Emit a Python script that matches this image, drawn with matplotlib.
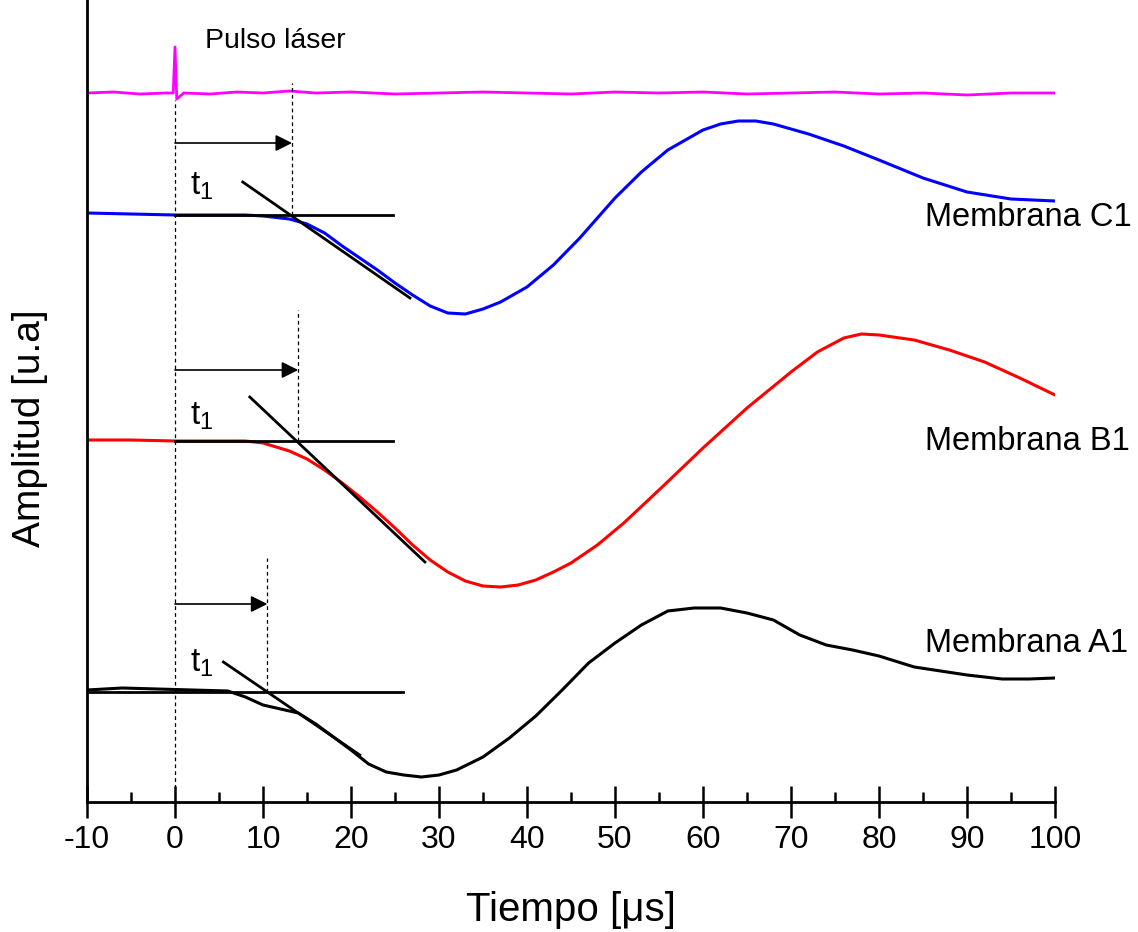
import numpy as np
import matplotlib
matplotlib.use('Agg')
import matplotlib.pyplot as plt

plt.rcParams['font.family'] = ['Liberation Sans', 'DejaVu Sans']
plt.rcParams['mathtext.default'] = 'regular'
plt.rcParams['axes.unicode_minus'] = False

# laser pulse trace
t_laser = [-10, -7, -4, -1, -0.2, 0, 0.2, 1, 4, 7, 10, 13, 16, 20, 25, 30, 35, 40, 45, 50,
           55, 60, 65, 70, 75, 80, 85, 90, 95, 100]
amp_laser = [709, 710, 708, 709, 709, 755, 703, 709, 708, 710, 709, 711, 709, 710, 708, 709, 710, 709, 708, 710,
             709, 710, 708, 709, 710, 708, 709, 707, 709, 709]

# membrana C1 (blue)
t_c1 = [-10, -5, 0, 5, 8, 10, 13, 15, 17, 19, 21, 23, 25, 27, 29, 31, 33, 35, 37, 40,
        43, 46, 50, 53, 56, 60, 62, 64, 66, 68, 72, 76, 80, 85, 90, 95, 100]
amp_c1 = [589, 588, 587, 587, 587, 586, 583, 578, 569, 556, 544, 532, 519, 507, 496, 489, 488, 493, 500, 515,
          537, 564, 604, 630, 652, 672, 678, 681, 681, 678, 668, 656, 642, 624, 610, 603, 601]

# membrana B1 (red)
t_b1 = [-10, -5, 0, 5, 8, 10, 13, 15, 17, 19, 21, 23, 25, 27, 29, 31, 33, 35, 37, 39,
        41, 43, 45, 48, 51, 55, 60, 65, 70, 73, 76, 78, 80, 84, 88, 92, 96, 100]
amp_b1 = [362, 362, 361, 361, 361, 359, 351, 343, 332, 319, 305, 290, 274, 257, 242, 230, 221, 216, 215, 217,
          222, 230, 239, 257, 279, 312, 354, 394, 430, 450, 464, 468, 467, 462, 452, 440, 424, 407]

# membrana A1 (black)
t_a1 = [-10, -6, -2, 2, 6, 8, 10, 12, 14, 16, 18, 20, 22, 24, 26, 28, 30, 32, 35, 38,
        41, 44, 47, 50, 53, 56, 59, 62, 65, 68, 71, 74, 77, 80, 84, 87, 90, 94, 97, 100]
amp_a1 = [112, 114, 113, 112, 111, 105, 97, 93, 89, 78, 65, 52, 38, 30, 27, 25, 27, 32, 45, 64,
          86, 112, 139, 159, 177, 191, 194, 194, 189, 182, 167, 157, 152, 146, 135, 131, 127, 123, 123, 124]

# t1 construction for each membrane: C1, B1, A1
names = ['Membrana C1', 'Membrana B1', 'Membrana A1']
t1 = [13.3, 14.0, 10.5]
base_amp = [587, 361, 110]
base_start = [0, 0, -10]
base_end = [24.8, 24.8, 25.9]
tan_t = [(7.7, 26.7), (8.5, 28.4), (5.5, 21.0)]
tan_amp = [(620, 504), (405, 240), (140, 47)]
dash_top = [719, 492, 244]
arrow_amp = [659, 432, 198]
t1_label_amp = [607, 377, 130]
name_amp = [584, 360, 159]

fig = plt.figure(figsize=(11.38, 9.32), dpi=100)
ax = fig.add_axes([87 / 1138, 1 - 802 / 932, 968 / 1138, 802 / 932])

ax.plot(t_laser, amp_laser, color='#ff00ff', lw=2.0)
ax.plot(t_c1, amp_c1, color='#0000ff', lw=2.2)
ax.plot(t_b1, amp_b1, color='#ff0000', lw=2.2)
ax.plot(t_a1, amp_a1, color='black', lw=2.2)

# dashed line from the laser pulse
ax.plot([0, 0], [0, 702], color='black', lw=0.9, ls=(0, (3, 2.5)))

for i in range(3):
    ax.plot([base_start[i], base_end[i]], [base_amp[i], base_amp[i]], color='black', lw=2.0)
    ax.plot(tan_t[i], tan_amp[i], color='black', lw=2.0)
    ax.plot([t1[i], t1[i]], [base_amp[i], dash_top[i]], color='black', lw=0.9, ls=(0, (3, 2.5)))
    ax.annotate('', xy=(t1[i], arrow_amp[i]), xytext=(0, arrow_amp[i]),
                arrowprops=dict(arrowstyle='-|>', color='black', lw=1.2,
                                mutation_scale=25, shrinkA=0, shrinkB=0))
    ax.text(1.7, t1_label_amp[i], 't$_1$', fontsize=24, va='baseline', ha='left')
    ax.text(85.2, name_amp[i], names[i], fontsize=23.5, va='center', ha='left', clip_on=False)

ax.text(3.4, 754, 'Pulso láser', fontsize=20.5, va='baseline', ha='left')

ax.set_xlim(-10, 100)
ax.set_ylim(0, 802)
ax.spines['top'].set_visible(False)
ax.spines['right'].set_visible(False)
ax.spines['left'].set_linewidth(2.0)
ax.spines['bottom'].set_linewidth(2.0)
ax.set_yticks([])
ax.set_xticks(np.arange(-10, 101, 10))
ax.set_xticks(np.arange(-5, 100, 10), minor=True)
ax.tick_params(axis='x', which='major', direction='inout', length=23, width=1.8,
               labelsize=23, pad=5)
ax.tick_params(axis='x', which='minor', direction='in', length=7, width=1.8)

ax.set_xlabel('Tiempo [μs]', fontsize=29, labelpad=26)
ax.set_ylabel('Amplitud [u.a]', fontsize=28)
ax.yaxis.set_label_coords(-0.040, 0.466)

fig.savefig('out.png', dpi=100, facecolor='white')
